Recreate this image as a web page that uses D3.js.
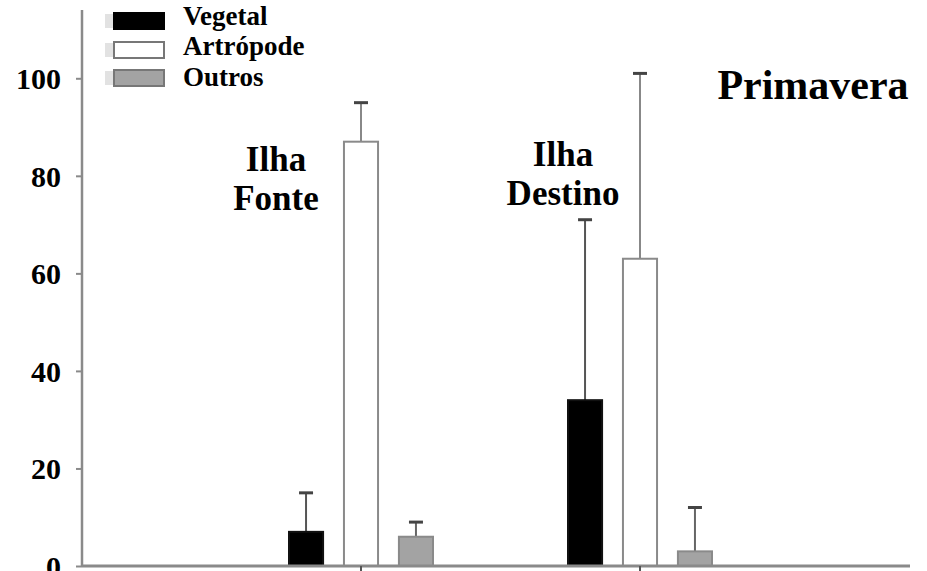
<!DOCTYPE html>
<html><head><meta charset="utf-8">
<script src="https://cdn.jsdelivr.net/npm/d3@7"></script>
<style>body{margin:0;background:#fff}svg{display:block}text{font-family:"Liberation Serif","Times New Roman",serif;font-weight:bold}</style>
</head><body>
<script>
const groups = ["Ilha Fonte", "Ilha Destino"];
const series = ["Vegetal", "Artrópode", "Outros"];
const means = { "Ilha Fonte": [7, 87, 6], "Ilha Destino": [34, 63, 3] };
const upper = { "Ilha Fonte": [15, 95, 9], "Ilha Destino": [71, 101, 12] };
const yTicks = [0, 20, 40, 60, 80, 100];
const seasonLabel = "Primavera";

const W = 927, H = 571;
const svg = d3.select("body").append("svg").attr("width", W).attr("height", H);

const y = d3.scaleLinear().domain([0, 114]).range([566, 10]);
const x = d3.scaleLinear().domain([0, 3]).range([82, 919]);
const gx = g => x(groups.indexOf(g) + 1);
const inner = d3.scaleBand().domain(series).range([-72, 72]).paddingInner(0.38).paddingOuter(0);
const fills = { "Vegetal": "#000", "Artrópode": "#fff", "Outros": "#a3a3a3" };
const strokes = { "Vegetal": "#111", "Artrópode": "#8a8a8a", "Outros": "#8a8a8a" };
const errCol = { "Vegetal": "#555", "Artrópode": "#888", "Outros": "#666" };

// axes
const yAxis = d3.axisLeft(y).tickValues(yTicks).tickSize(6).tickFormat(d3.format("d"));
const ga = svg.append("g").attr("transform", "translate(82,0)").call(yAxis);
ga.select(".domain").attr("stroke", "#8a8a8a").attr("stroke-width", 2.5).attr("d", `M0,${y(114)}V${y(0)}`);
ga.selectAll(".tick line").attr("stroke", "#8a8a8a").attr("stroke-width", 2);
ga.selectAll(".tick text").attr("x", -21).attr("dy", "0.34em").attr("fill", "#000")
  .style("font-size", "30px").style("font-family", '"Liberation Serif",serif').style("font-weight", "bold");

// bars
groups.forEach(g => {
  series.forEach((s, i) => {
    const cx = gx(g) + inner(s);
    const v = means[g][i], u = upper[g][i];
    const bw = inner.bandwidth();
    const mid = cx + bw / 2;
    svg.append("line").attr("x1", mid).attr("x2", mid).attr("y1", y(v)).attr("y2", y(u))
      .attr("stroke", errCol[s]).attr("stroke-width", 2);
    svg.append("line").attr("x1", mid - 7).attr("x2", mid + 7).attr("y1", y(u)).attr("y2", y(u))
      .attr("stroke", "#444").attr("stroke-width", 3);
    svg.append("rect").attr("x", cx).attr("y", y(v)).attr("width", bw).attr("height", y(0) - y(v))
      .attr("fill", fills[s]).attr("stroke", strokes[s]).attr("stroke-width", 2);
  });
});

// x axis
svg.append("line").attr("x1", 82).attr("x2", 910).attr("y1", y(0)).attr("y2", y(0))
  .attr("stroke", "#8a8a8a").attr("stroke-width", 3);
groups.forEach(g => {
  svg.append("line").attr("x1", gx(g)).attr("x2", gx(g)).attr("y1", y(0)).attr("y2", y(0) + 5)
    .attr("stroke", "#555").attr("stroke-width", 2);
});

// group labels
const glab = { "Ilha Fonte": [["Ilha", 171], ["Fonte", 210]], "Ilha Destino": [["Ilha", 166], ["Destino", 205]] };
const gcx = { "Ilha Fonte": gx("Ilha Fonte") - 85, "Ilha Destino": gx("Ilha Destino") - 77 };
groups.forEach(g => {
  glab[g].forEach(([t, by]) => {
    svg.append("text").attr("x", gcx[g]).attr("y", by).attr("text-anchor", "middle")
      .style("font-size", "35px").text(t);
  });
});

svg.append("text").attr("x", 813).attr("y", 99).attr("text-anchor", "middle")
  .style("font-size", "42px").text(seasonLabel);

// legend
const swY = [21, 50, 78];
const txY = [25, 55, 86];
series.forEach((s, i) => {
  svg.append("rect").attr("x", 105).attr("y", swY[i] - 7).attr("width", 8).attr("height", 14).attr("fill", "#e2e2e2");
  svg.append("rect").attr("x", 114).attr("y", swY[i] - 8).attr("width", 50).attr("height", 16)
    .attr("fill", fills[s]).attr("stroke", s === "Vegetal" ? "#000" : "#777").attr("stroke-width", 2);
  svg.append("text").attr("x", 183).attr("y", txY[i]).style("font-size", "27px").text(s);
});
</script>
</body></html>
